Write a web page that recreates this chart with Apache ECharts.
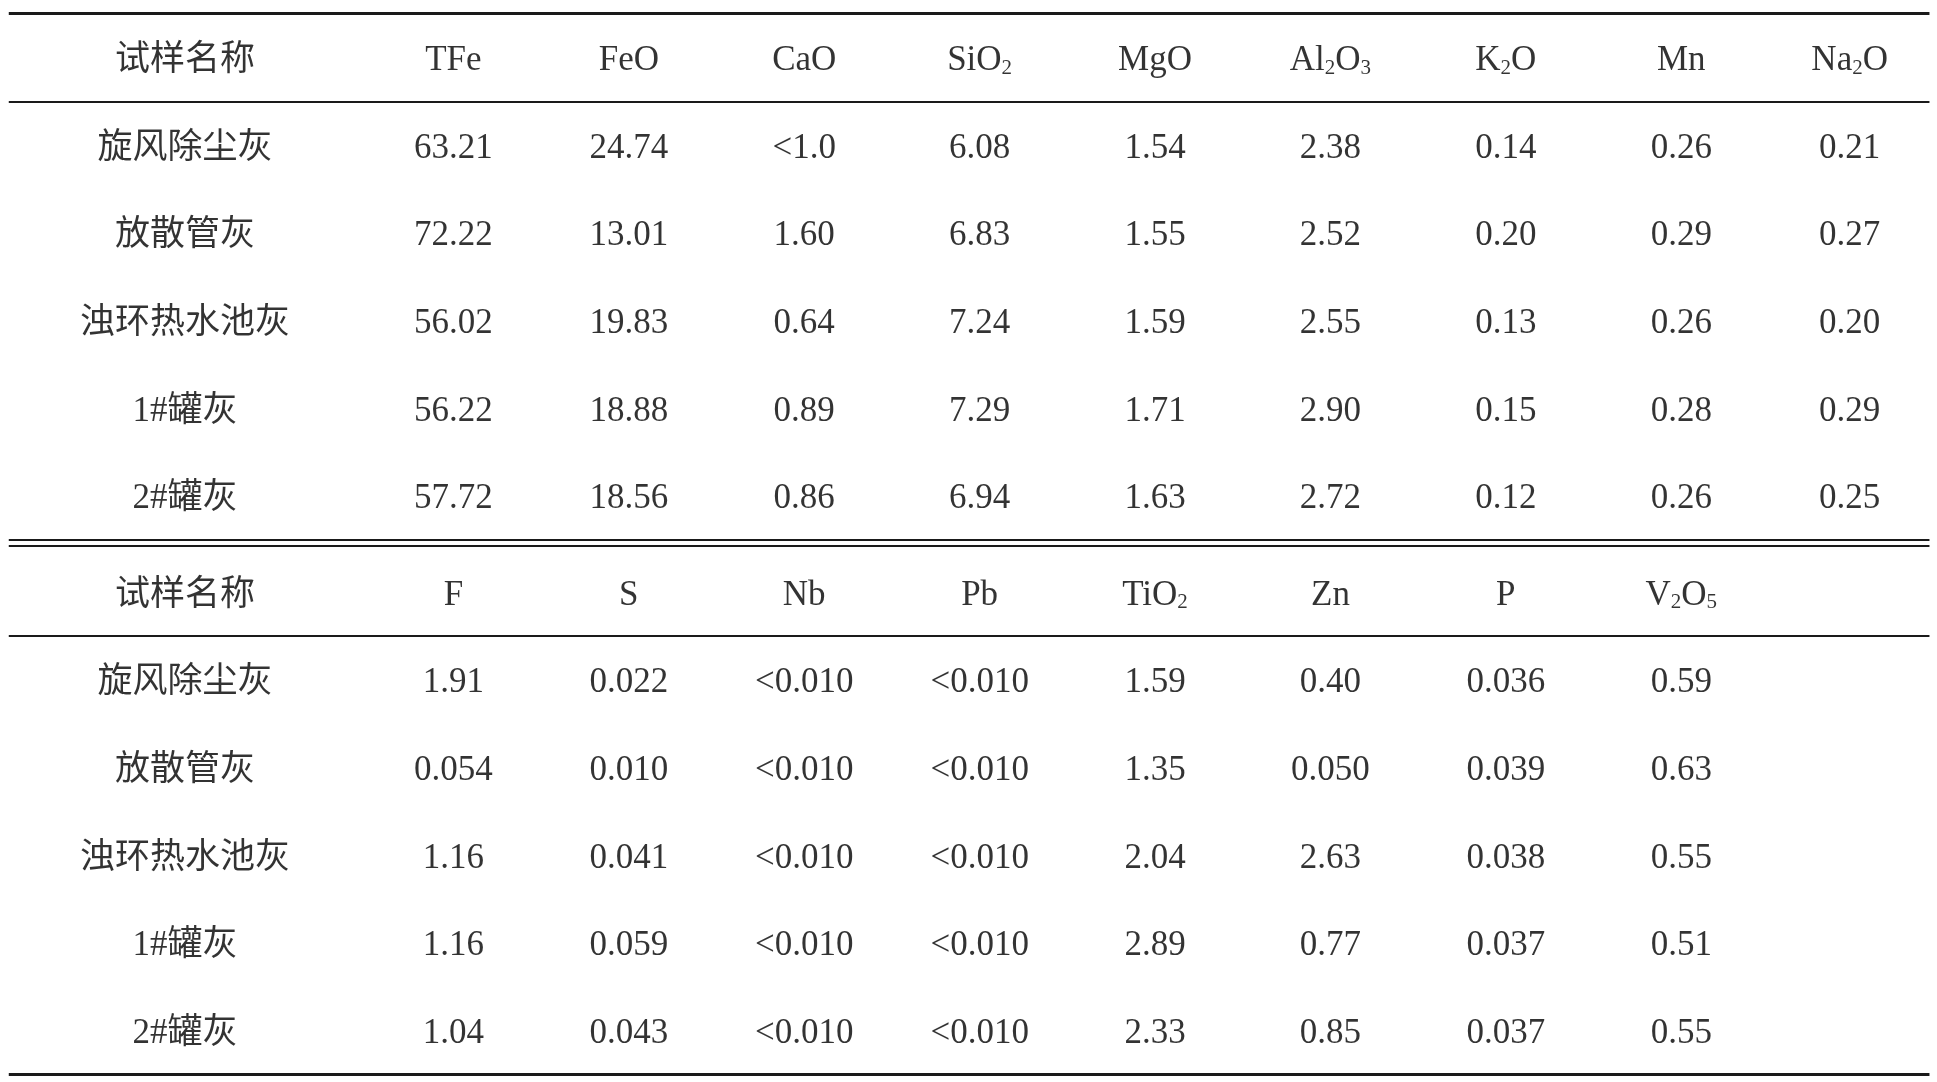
<!DOCTYPE html>
<html lang="en">
<head>
<meta charset="UTF-8">
<title>试样成分</title>
<script src="https://cdn.jsdelivr.net/npm/echarts@6/dist/echarts.min.js"></script>
<style>html,body{margin:0;padding:0;background:#fff}</style>
</head>
<body>
<div id="main" style="width:1937px;height:1082px"></div>
<script>
var sampleNames = ['旋风除尘灰', '放散管灰', '浊环热水池灰', '1#罐灰', '2#罐灰'];
var header1 = ['试样名称', 'TFe', 'FeO', 'CaO', 'SiO{s|2}', 'MgO', 'Al{s|2}O{s|3}', 'K{s|2}O', 'Mn', 'Na{s|2}O'];
var values1 = [
    ['63.21', '24.74', '<1.0', '6.08', '1.54', '2.38', '0.14', '0.26', '0.21'],
    ['72.22', '13.01', '1.60', '6.83', '1.55', '2.52', '0.20', '0.29', '0.27'],
    ['56.02', '19.83', '0.64', '7.24', '1.59', '2.55', '0.13', '0.26', '0.20'],
    ['56.22', '18.88', '0.89', '7.29', '1.71', '2.90', '0.15', '0.28', '0.29'],
    ['57.72', '18.56', '0.86', '6.94', '1.63', '2.72', '0.12', '0.26', '0.25']
];
var header2 = ['试样名称', 'F', 'S', 'Nb', 'Pb', 'TiO{s|2}', 'Zn', 'P', 'V{s|2}O{s|5}'];
var values2 = [
    ['1.91', '0.022', '<0.010', '<0.010', '1.59', '0.40', '0.036', '0.59'],
    ['0.054', '0.010', '<0.010', '<0.010', '1.35', '0.050', '0.039', '0.63'],
    ['1.16', '0.041', '<0.010', '<0.010', '2.04', '2.63', '0.038', '0.55'],
    ['1.16', '0.059', '<0.010', '<0.010', '2.89', '0.77', '0.037', '0.51'],
    ['1.04', '0.043', '<0.010', '<0.010', '2.33', '0.85', '0.037', '0.55']
];

// column and row positions in axis units
var colPos = [-0.53, 1, 2, 3, 4, 5, 6, 7, 8, 8.96];
function rowPos(r) { return (r < 6 ? r : r + 0.1) + 0.03; }

var cells = [];
function addRow(r, texts) {
    texts.forEach(function (t, i) { cells.push([colPos[i], rowPos(r), t]); });
}
addRow(0, header1);
values1.forEach(function (v, i) { addRow(i + 1, [sampleNames[i]].concat(v)); });
addRow(6, header2);
values2.forEach(function (v, i) { addRow(i + 7, [sampleNames[i]].concat(v)); });

var x0 = -1.535, x1 = 9.415;
function rule(y, w) {
    return [{ coord: [x0, y], lineStyle: { width: w } }, { coord: [x1, y] }];
}

var chart = echarts.init(document.getElementById('main'));
chart.setOption({
    animation: false,
    grid: { left: 0, right: 0, top: 0, bottom: 0 },
    xAxis: { type: 'value', min: -1.585, max: 9.458, show: false },
    yAxis: { type: 'value', inverse: true, min: -0.662, max: 11.68, show: false },
    series: [{
        type: 'scatter',
        symbolSize: 1,
        itemStyle: { color: 'rgba(0,0,0,0)' },
        data: cells,
        label: {
            show: true,
            position: 'inside',
            formatter: function (p) { return p.value[2]; },
            fontFamily: '"Liberation Serif", "Noto Sans CJK SC", serif',
            fontSize: 35,
            color: '#000',
            rich: {
                s: { fontSize: 21, padding: [15, 0, 0, 0], fontFamily: '"Liberation Serif", serif', color: '#000' }
            }
        },
        markLine: {
            silent: true,
            symbol: 'none',
            label: { show: false },
            lineStyle: { color: '#1a1a1a', type: 'solid', width: 1.8 },
            data: [
                rule(-0.507, 3.2),
                rule(0.493, 1.8),
                rule(5.493, 1.8),
                rule(5.563, 1.8),
                rule(6.592, 1.8),
                rule(11.59, 3.2)
            ]
        }
    }]
});
</script>
</body>
</html>
